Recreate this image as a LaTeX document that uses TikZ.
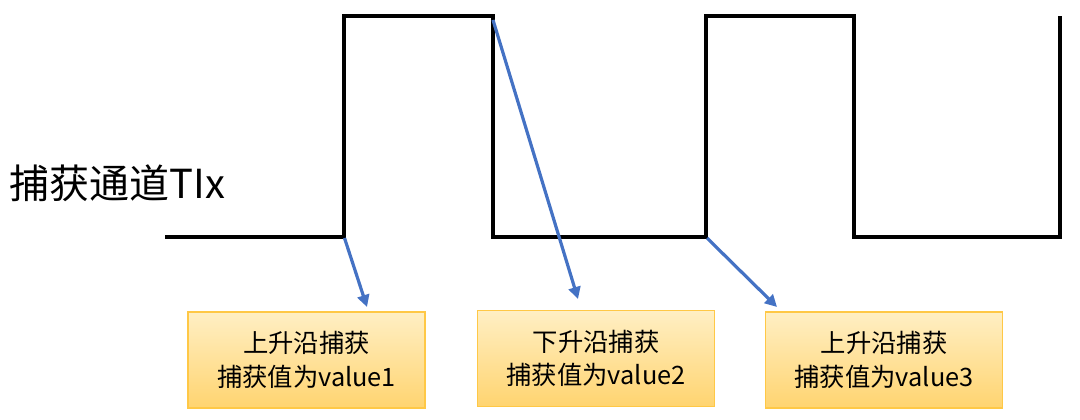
\documentclass[tikz,border=0pt]{standalone}
\usepackage{fontspec}
\setmainfont{Noto Sans CJK SC}
\usetikzlibrary{arrows.meta}
\definecolor{arrowblue}{HTML}{4472C4}
\definecolor{boxtop}{HTML}{FFEFC4}
\definecolor{boxbot}{HTML}{FFD470}
\definecolor{boxedge}{HTML}{FFC846}
\tikzset{
  wave/.style={line width=3pt, line join=miter},
  ptr/.style={draw=arrowblue, line width=2.4pt, -{Triangle[length=9pt,width=9pt]}},
  capbox/.style={draw=boxedge, line width=0.8pt, top color=boxtop, bottom color=boxbot,
    minimum width=177.75pt, minimum height=72pt, align=center, inner sep=0pt,
    font=\fontsize{19}{25}\selectfont},
}
\begin{document}
\begin{tikzpicture}[x=0.75pt,y=-0.75pt]
\useasboundingbox (0,0) rectangle (1080,420);
\coordinate (w0) at (165,237);
\coordinate (r1b) at (344,237);
\coordinate (r1t) at (344,16);
\coordinate (f1t) at (493,16);
\coordinate (f1b) at (493,237);
\coordinate (r2b) at (706,237);
\coordinate (r2t) at (706,16);
\coordinate (f2t) at (854,16);
\coordinate (f2b) at (854,237);
\coordinate (r3b) at (1060,237);
\coordinate (r3t) at (1060,16);
\draw[wave] (w0) -- (r1b) -- (r1t) -- (f1t) -- (f1b) -- (r2b) -- (r2t) -- (f2t) -- (f2b) -- (r3b) -- (r3t);
\node[anchor=west, font=\fontsize{30}{34}\selectfont] (title) at (5,183) {捕获通道TIx};
\node[capbox] (b1) at (306.5,360) {上升沿捕获\\捕获值为value1};
\node[capbox] (b2) at (596,358.5) {下升沿捕获\\捕获值为value2};
\node[capbox] (b3) at (884,360) {上升沿捕获\\捕获值为value3};
\coordinate (a1s) at (344.5,238);
\coordinate (a1e) at (367,307);
\coordinate (a2s) at (493,20);
\coordinate (a2e) at (578,299);
\coordinate (a3s) at (707,238);
\coordinate (a3e) at (777,307);
\draw[ptr] (a1s) -- (a1e);
\draw[ptr] (a2s) -- (a2e);
\draw[ptr] (a3s) -- (a3e);
\end{tikzpicture}
\end{document}
